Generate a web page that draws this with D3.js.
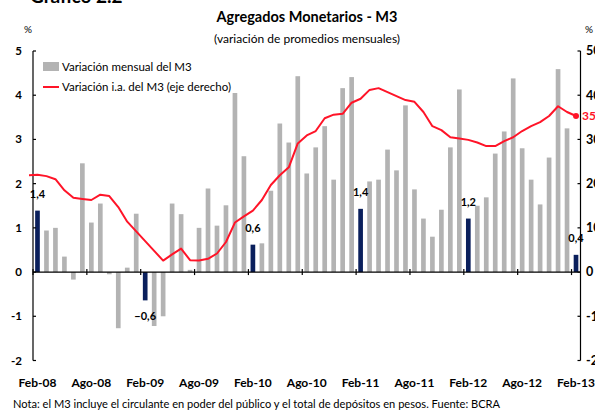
<!DOCTYPE html>
<html>
<head>
<meta charset="utf-8">
<script src="https://cdn.jsdelivr.net/npm/d3@7"></script>
<style>
  body { margin: 0; background: white; }
  svg { display: block; font-family: Lato, 'Open Sans', sans-serif; }
</style>
</head>
<body>
<script>
/* DATA */

// monthly categories, Feb-08 .. Feb-13
var firstMonth = new Date(2008, 1, 1);
var lastMonth = new Date(2013, 1, 1);
var months = d3.timeMonth.range(firstMonth, d3.timeMonth.offset(lastMonth, 1));

var tickLabels = ['Feb-08', 'Ago-08', 'Feb-09', 'Ago-09', 'Feb-10', 'Ago-10',
                  'Feb-11', 'Ago-11', 'Feb-12', 'Ago-12', 'Feb-13'];

// variacion mensual del M3 (%), left axis
var m3Mensual = [
  1.39, 0.94, 1.00, 0.35, -0.17, 2.46, 1.12, 1.55, -0.05, -1.27, 0.10, 1.32,
  -0.64, -1.22, -1.00, 1.55, 1.31, 0.05, 1.00, 1.89, 1.05, 1.51, 4.05, 2.62,
  0.62, 0.65, 1.84, 3.36, 2.93, 4.43, 2.23, 2.82, 3.30, 2.09, 4.16, 4.41,
  1.43, 2.05, 2.09, 2.77, 2.30, 3.77, 1.87, 1.21, 0.80, 1.41, 2.82, 4.13,
  1.21, 1.50, 1.69, 2.68, 3.18, 4.38, 2.80, 2.09, 1.53, 2.59, 4.59, 3.25,
  0.39
];

// variacion i.a. del M3 (%), right axis, Ene-08 .. Feb-13
var m3Interanual = [
  21.9, 22.0, 21.7, 21.0, 18.5, 16.8, 16.55, 16.3, 17.5, 17.2, 14.7, 11.4,
  9.2, 7.0, 4.8, 2.6, 4.0, 5.3, 2.7, 2.6, 3.0, 4.2, 6.8, 11.2,
  12.6, 13.9, 16.3, 19.7, 21.9, 23.7, 29.1, 30.9, 31.9, 34.8, 35.6, 35.8,
  38.3, 39.2, 41.2, 41.6, 40.7, 39.8, 38.9, 38.5, 36.2, 33.0, 32.1, 30.5,
  30.2, 29.9, 29.3, 28.5, 28.5, 29.6, 30.5, 31.9, 33.0, 33.9, 35.3, 37.5,
  36.2, 35.3
];

var leftTicks = [-2, -1, 0, 1, 2, 3, 4, 5];
var rightTicks = [-20, -10, 0, 10, 20, 30, 40, 50];

/* STYLE */
var width = 595;
var height = 412;
var plotLeft = 33;
var plotRight = 580.5;
var plotTop = 51;
var plotBottom = 360.5;

var barColor = '#b3b3b3';
var febColor = '#0a1f5c';
var lineColor = '#ff1428';
var textColor = '#000000';

var monthKey = d3.timeFormat('%Y-%m');
var esMonths = ['Ene', 'Feb', 'Mar', 'Abr', 'May', 'Jun', 'Jul', 'Ago', 'Sep', 'Oct', 'Nov', 'Dic'];
var monthLabel = d => esMonths[d.getMonth()] + '-' + d3.timeFormat('%y')(d);
var commaFmt = v => d3.format('.1f')(v).replace('.', ',');

/* SCALES */
var x = d3.scaleBand()
    .domain(months.map(monthKey))
    .range([plotLeft, plotRight])
    .paddingInner(0.48)
    .paddingOuter(0.24);

var step = x.step();
var bandStart = d => x(monthKey(d)) - step * x.paddingOuter();
var bandCenter = d => x(monthKey(d)) + x.bandwidth() / 2;

var yLeft = d3.scaleLinear().domain([-2, 5]).range([plotBottom, plotTop]);
var yRight = d3.scaleLinear().domain([-20, 50]).range([plotBottom, plotTop]);

// line points start one month before the first bar
var lineMonths = d3.timeMonth.range(d3.timeMonth.offset(firstMonth, -1), d3.timeMonth.offset(lastMonth, 1));
var lineX = d => bandCenter(firstMonth) + d3.timeMonth.count(firstMonth, d) * step;

/* SVG */
var svg = d3.select('body').append('svg')
    .attr('width', width)
    .attr('height', height);

svg.append('rect')
    .attr('width', width)
    .attr('height', height)
    .attr('fill', 'white');

// heading (cut at the top of the page)
svg.append('text')
    .attr('x', 30)
    .attr('y', 3)
    .style('font', 'bold 19px Lato')
    .attr('fill', textColor)
    .text('Gráfico 2.2');

svg.append('text')
    .attr('x', 307)
    .attr('y', 22)
    .attr('text-anchor', 'middle')
    .style('font', 'bold 14.5px Lato')
    .text('Agregados Monetarios - M3');

svg.append('text')
    .attr('x', 307)
    .attr('y', 43)
    .attr('text-anchor', 'middle')
    .style('font', '12px Lato')
    .text('(variación de promedios mensuales)');

svg.append('text').attr('x', 28).attr('y', 33)
    .attr('text-anchor', 'middle').style('font', '10px Lato').text('%');
svg.append('text').attr('x', 589).attr('y', 33)
    .attr('text-anchor', 'middle').style('font', '10px Lato').text('%');

// bars
var barData = months.map((d, i) => ({date: d, value: m3Mensual[i]}));
var isFeb = d => d.date.getMonth() === 1;

svg.append('g')
    .selectAll('rect')
    .data(barData)
    .join('rect')
    .attr('x', d => x(monthKey(d.date)))
    .attr('width', x.bandwidth())
    .attr('y', d => yLeft(Math.max(0, d.value)))
    .attr('height', d => Math.abs(yLeft(d.value) - yLeft(0)))
    .attr('fill', d => isFeb(d) ? febColor : barColor);

// labels on february bars
svg.append('g')
    .selectAll('text')
    .data(barData.filter(isFeb))
    .join('text')
    .attr('x', d => bandCenter(d.date))
    .attr('y', d => d.value >= 0 ? yLeft(d.value) - 13 : yLeft(d.value) + 20)
    .attr('text-anchor', 'middle')
    .style('font', 'bold 11px Lato')
    .text(d => commaFmt(d.value));

// axes lines
var axisG = svg.append('g')
    .attr('stroke', '#000')
    .attr('stroke-width', 1.2);

axisG.append('line')
    .attr('x1', plotLeft).attr('x2', plotLeft)
    .attr('y1', plotTop).attr('y2', plotBottom);
axisG.append('line')
    .attr('x1', plotRight).attr('x2', plotRight)
    .attr('y1', plotTop).attr('y2', plotBottom);
axisG.append('line')
    .attr('x1', plotLeft).attr('x2', plotRight)
    .attr('y1', yLeft(0)).attr('y2', yLeft(0));

axisG.selectAll('.lt')
    .data(leftTicks)
    .join('line')
    .attr('class', 'lt')
    .attr('x1', plotLeft).attr('x2', plotLeft + 3)
    .attr('y1', d => yLeft(d)).attr('y2', d => yLeft(d));

axisG.selectAll('.rt')
    .data(rightTicks)
    .join('line')
    .attr('class', 'rt')
    .attr('x1', plotRight - 3).attr('x2', plotRight)
    .attr('y1', d => yRight(d)).attr('y2', d => yRight(d));

// x ticks at every six months, crossing the zero line
var tickMonths = months.filter(d => tickLabels.includes(monthLabel(d)));
axisG.selectAll('.xt')
    .data(tickMonths)
    .join('line')
    .attr('class', 'xt')
    .attr('x1', d => bandStart(d)).attr('x2', d => bandStart(d))
    .attr('y1', yLeft(0) - 3).attr('y2', yLeft(0) + 3);

svg.append('g')
    .selectAll('text')
    .data(tickMonths)
    .join('text')
    .attr('x', d => bandCenter(d))
    .attr('y', 387)
    .attr('text-anchor', 'middle')
    .style('font', 'bold 12px Lato')
    .text(d => monthLabel(d));

svg.append('g')
    .selectAll('text')
    .data(leftTicks)
    .join('text')
    .attr('x', 22)
    .attr('y', d => yLeft(d))
    .attr('dy', '0.35em')
    .attr('text-anchor', 'end')
    .style('font', 'bold 11.5px Lato')
    .text(d => d);

// right axis labels run past the page edge, as in the source
svg.append('g')
    .selectAll('text')
    .data(rightTicks)
    .join('text')
    .attr('x', 586)
    .attr('y', d => yRight(d))
    .attr('dy', '0.35em')
    .style('font', 'bold 12.5px Lato')
    .text(d => d);

// interannual line
var lineData = lineMonths.map((d, i) => ({date: d, value: m3Interanual[i]}));
var line = d3.line()
    .x(d => lineX(d.date))
    .y(d => yRight(d.value));

svg.append('clipPath')
    .attr('id', 'clipLine')
    .append('rect')
    .attr('x', 29).attr('y', 0)
    .attr('width', width - 29).attr('height', height);

svg.append('path')
    .datum(lineData)
    .attr('clip-path', 'url(#clipLine)')
    .attr('fill', 'none')
    .attr('stroke', lineColor)
    .attr('stroke-width', 2)
    .attr('stroke-linejoin', 'round')
    .attr('d', line);

var lastPoint = lineData[lineData.length - 1];
svg.append('circle')
    .attr('cx', lineX(lastPoint.date))
    .attr('cy', yRight(lastPoint.value))
    .attr('r', 3)
    .attr('fill', lineColor);

svg.append('text')
    .attr('x', 582)
    .attr('y', yRight(lastPoint.value))
    .attr('dy', '0.35em')
    .attr('fill', lineColor)
    .style('font', 'bold 12px Lato')
    .text(d3.format('.0f')(lastPoint.value));

// legend
var legend = svg.append('g');
legend.append('rect')
    .attr('x', 43).attr('y', 62)
    .attr('width', 16).attr('height', 9)
    .attr('fill', barColor);
legend.append('text')
    .attr('x', 62).attr('y', 66.5)
    .attr('dy', '0.35em')
    .style('font', '11.5px Lato')
    .text('Variación mensual del M3');
legend.append('line')
    .attr('x1', 43).attr('x2', 59)
    .attr('y1', 87).attr('y2', 87)
    .attr('stroke', lineColor)
    .attr('stroke-width', 2);
legend.append('text')
    .attr('x', 62).attr('y', 87)
    .attr('dy', '0.35em')
    .style('font', '11.5px Lato')
    .text('Variación i.a. del M3 (eje derecho)');

// note
svg.append('text')
    .attr('x', 13)
    .attr('y', 408)
    .style('font', '11.1px Lato')
    .text('Nota: el M3 incluye el circulante en poder del público y el total de depósitos en pesos. Fuente: BCRA');
</script>
</body>
</html>
